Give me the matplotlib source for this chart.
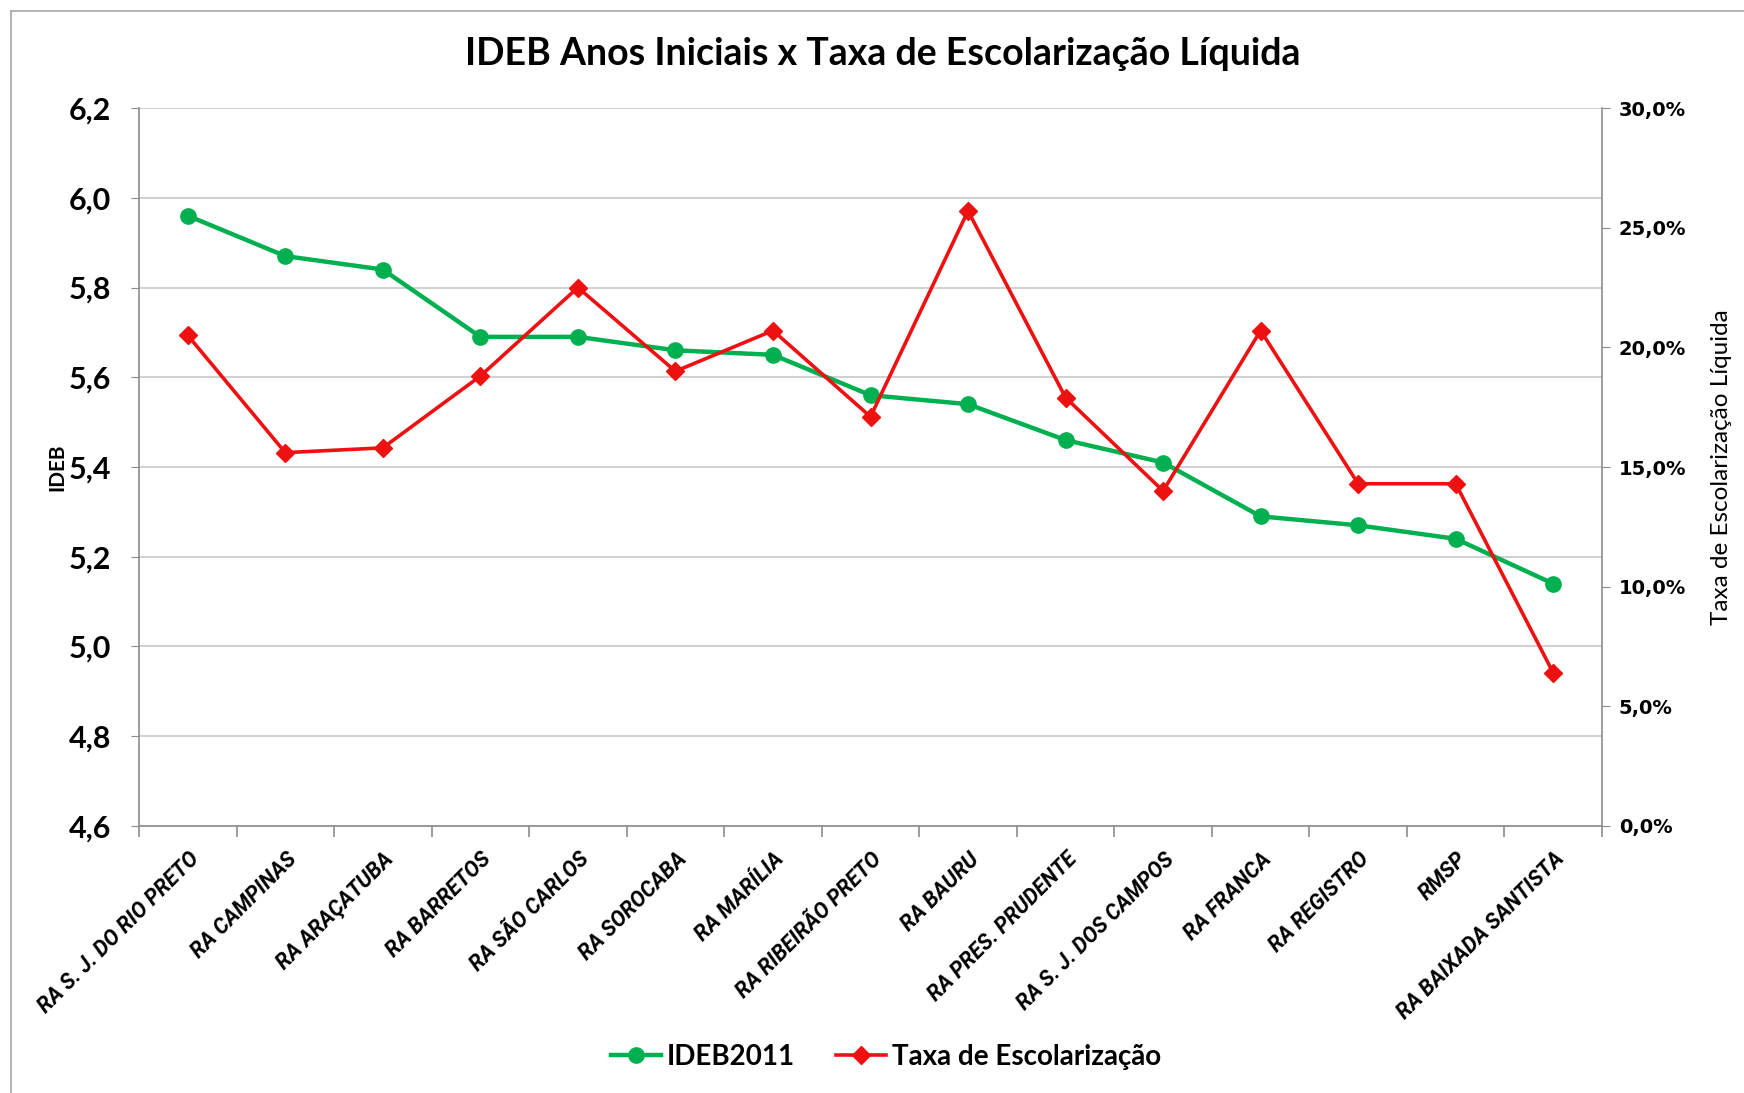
import matplotlib
matplotlib.use("Agg")
import matplotlib.pyplot as plt
from matplotlib.lines import Line2D
from matplotlib.ticker import FuncFormatter, FixedLocator

plt.rcParams['font.family'] = ['Lato', 'DejaVu Sans']

# Data
regioes = ['RA S. J. DO RIO PRETO', 'RA CAMPINAS', 'RA ARAÇATUBA', 'RA BARRETOS',
           'RA SÃO CARLOS', 'RA SOROCABA', 'RA MARÍLIA', 'RA RIBEIRÃO PRETO',
           'RA BAURU', 'RA PRES. PRUDENTE', 'RA S. J. DOS CAMPOS', 'RA FRANCA',
           'RA REGISTRO', 'RMSP', 'RA BAIXADA SANTISTA']
ideb2011 = [5.96, 5.87, 5.84, 5.69, 5.69, 5.66, 5.65, 5.56, 5.54, 5.46, 5.41,
            5.29, 5.27, 5.24, 5.14]
taxa_escol = [20.5, 15.6, 15.8, 18.8, 22.5, 19.0, 20.7, 17.1, 25.7, 17.9, 14.0,
              20.7, 14.3, 14.3, 6.4]

green = '#00B050'
red = '#EE1111'
axis_gray = '#8C8C8C'
grid_gray = '#C8C8C8'

W, H = 1744, 1093
fig = plt.figure(figsize=(W / 100, H / 100), dpi=100)
ax = fig.add_axes([139 / W, 1 - 826 / H, (1602 - 139) / W, (826 - 108) / H])

x = list(range(len(regioes)))

# IDEB on the primary axis
ax.plot(x, ideb2011, color=green, lw=3.2, marker='o', ms=11, zorder=3)
ax.set_ylim(4.6, 6.2)
ax.set_xlim(-0.5, len(regioes) - 0.5)
ax.set_yticks([4.6 + 0.2 * i for i in range(9)])
ax.yaxis.set_major_formatter(FuncFormatter(lambda v, p: f"{v:.1f}".replace('.', ',')))
ax.grid(axis='y', color=grid_gray, lw=1.2)
ax.set_axisbelow(True)
for s in ['top', 'right']:
    ax.spines[s].set_visible(False)
for s in ['left', 'bottom']:
    ax.spines[s].set_color(axis_gray)
    ax.spines[s].set_linewidth(1.2)
ax.tick_params(axis='y', direction='out', length=6, color=axis_gray, pad=14,
               labelsize=22)
for lab in ax.get_yticklabels():
    lab.set_fontweight('bold')

# category labels at centers, tick marks at boundaries
ax.set_xticks(x)
ax.set_xticklabels(regioes, rotation=45, ha='right', va='top',
                   rotation_mode='anchor', fontsize=15.5, fontweight='bold',
                   fontstyle='italic', family=['Roboto', 'DejaVu Sans'])
ax.tick_params(axis='x', which='major', length=0, pad=16)
ax.xaxis.set_minor_locator(FixedLocator([i - 0.5 for i in range(len(regioes) + 1)]))
ax.tick_params(axis='x', which='minor', length=8, color=axis_gray, width=1.2)

# Taxa on secondary axis
ax2 = ax.twinx()
ax2.plot(x, taxa_escol, color=red, lw=2.6, marker='D', ms=9, zorder=3)
ax2.set_ylim(0, 30)
ax2.set_yticks([0, 5, 10, 15, 20, 25, 30])
ax2.yaxis.set_major_formatter(FuncFormatter(lambda v, p: f"{v:.1f}%".replace('.', ',')))
for s in ['top', 'left', 'bottom']:
    ax2.spines[s].set_visible(False)
ax2.spines['right'].set_color(axis_gray)
ax2.spines['right'].set_linewidth(1.2)
ax2.tick_params(axis='y', direction='out', length=6, color=axis_gray, pad=6,
                labelsize=14)
for lab in ax2.get_yticklabels():
    lab.set_fontweight('bold')
    lab.set_family('DejaVu Sans')

fig.text(0.506, 0.951, 'IDEB Anos Iniciais x Taxa de Escolarização Líquida',
         ha='center', va='center', fontsize=27, fontweight='bold')
fig.text(0.033, 1 - 467 / H, 'IDEB', rotation=90, ha='center', va='center',
         fontsize=15, fontweight='bold')
fig.text(0.987, 1 - 467 / H, 'Taxa de Escolarização Líquida', rotation=90,
         ha='center', va='center', fontsize=17.5)

# chart-area border
fig.add_artist(Line2D([11 / W, 11 / W], [0, 1 - 11 / H], color='#A6A6A6', lw=1.2))
fig.add_artist(Line2D([11 / W, 1], [1 - 11 / H, 1 - 11 / H], color='#A6A6A6', lw=1.2))

handles = [Line2D([], [], color=green, lw=3.2, marker='o', ms=11),
           Line2D([], [], color=red, lw=2.6, marker='D', ms=9)]
fig.legend(handles, ['IDEB2011', 'Taxa de Escolarização'], loc='center',
           bbox_to_anchor=(0.508, 1 - 1057 / H), ncol=2, frameon=False,
           prop={'size': 20, 'weight': 'bold'}, handlelength=1.8,
           handletextpad=0.2, columnspacing=1.5)

fig.savefig('out.png', dpi=100)
